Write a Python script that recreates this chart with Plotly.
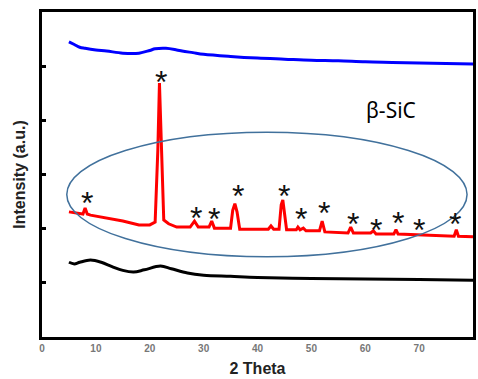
import plotly.graph_objects as go

# Blue curve (top)
blue_x = [5, 6, 7, 8, 10, 12, 15, 18, 20, 21, 23, 25, 26, 28, 30, 35, 40, 45, 50, 55, 60, 65, 70, 75, 80]
blue_y = [5.45, 5.40, 5.35, 5.33, 5.30, 5.28, 5.24, 5.24, 5.29, 5.32, 5.33, 5.30, 5.28, 5.25, 5.22, 5.18, 5.15, 5.13, 5.11, 5.10, 5.08, 5.07, 5.06, 5.05, 5.04]

# Red curve (beta-SiC)
red_x = [5, 7, 7.6, 8, 8.4, 9, 12, 15, 18, 20, 21, 21.5, 21.8, 22.2, 22.6, 23.5, 25, 27.5, 28.3, 29, 31, 31.5, 32,
         35, 35.4, 35.8, 36.2, 36.7, 40, 42, 42.5, 43, 44, 44.4, 44.7, 45, 45.4, 47.2, 47.5, 47.9, 48.5, 49, 51.5, 52, 52.5,
         56.8, 57.3, 57.8, 61, 61.5, 62, 65.3, 65.7, 66.1, 70, 76.5, 76.9, 77.3, 80]
red_y = [2.31, 2.27, 2.27, 2.38, 2.27, 2.25, 2.20, 2.14, 2.07, 2.07, 2.12, 3.45, 4.69, 3.45, 2.16, 2.09, 2.03, 2.03, 2.14, 2.03, 2.03, 2.14, 2.01,
         2.01, 2.34, 2.46, 2.31, 1.99, 1.99, 1.99, 2.05, 1.99, 1.99, 2.44, 2.53, 2.31, 1.98, 1.98, 2.03, 1.98, 2.01, 1.96, 1.96, 2.14, 1.94,
         1.92, 2.03, 1.92, 1.92, 1.96, 1.90, 1.90, 1.98, 1.90, 1.88, 1.86, 1.98, 1.86, 1.85]

# Black curve (bottom)
black_x = [5, 6, 7, 9, 11, 13, 15, 17, 19, 22, 24, 27, 30, 35, 40, 50, 60, 70, 80]
black_y = [1.38, 1.35, 1.38, 1.42, 1.38, 1.30, 1.23, 1.20, 1.24, 1.31, 1.26, 1.18, 1.14, 1.12, 1.10, 1.08, 1.07, 1.06, 1.05]

# Asterisk marker positions
star_x = [8.3, 22.0, 28.5, 32.0, 36.4, 44.9, 48.0, 52.3, 57.7, 62.0, 66.0, 69.9, 76.7]
star_y = [2.52, 4.74, 2.23, 2.21, 2.64, 2.64, 2.21, 2.32, 2.12, 2.01, 2.14, 2.01, 2.12]

fig = go.Figure()
fig.add_trace(go.Scatter(x=blue_x, y=blue_y, mode="lines", line=dict(color="#0000ff", width=3), line_shape="spline"))
fig.add_trace(go.Scatter(x=red_x, y=red_y, mode="lines", line=dict(color="#ff0000", width=3)))
fig.add_trace(go.Scatter(x=black_x, y=black_y, mode="lines", line=dict(color="#000000", width=3), line_shape="spline"))

for sx, sy in zip(star_x, star_y):
    fig.add_annotation(x=sx, y=sy, text="*", showarrow=False,
                       font=dict(family="Liberation Sans", size=32, color="#111111"), yshift=-2)

fig.add_annotation(x=64.7, y=4.19, text="β-SiC", showarrow=False,
                   font=dict(family="Noto Sans", size=21, color="#000000"))

fig.add_shape(type="circle", xref="x", yref="y", x0=4.6, x1=78.9, y0=1.48, y1=3.78,
              line=dict(color="#41719c", width=1.5))

fig.update_layout(
    width=478, height=379,
    margin=dict(l=42, r=2, t=12, b=42),
    paper_bgcolor="white", plot_bgcolor="white",
    showlegend=False,
    font=dict(family="Liberation Sans"),
)
fig.update_xaxes(range=[0, 80], tickvals=[0, 10, 20, 30, 40, 50, 60, 70, 80],
                 ticks="", showgrid=False, zeroline=False,
                 showline=True, linecolor="black", linewidth=3, mirror=True,
                 tickfont=dict(size=10, color="#777777", weight="bold"),
                 title=dict(text="<b>2 Theta</b>", font=dict(size=16, color="#222222"), standoff=10))
fig.update_yaxes(range=[0, 6], tickvals=[1, 2, 3, 4, 5], ticktext=["", "", "", "", ""],
                 ticks="inside", ticklen=4, tickwidth=3, tickcolor="black",
                 showgrid=False, zeroline=False,
                 showline=True, linecolor="black", linewidth=3, mirror=True,
                 title=dict(text="<b>Intensity (a.u.)</b>", font=dict(size=16, color="#222222"), standoff=8))

fig.write_html("out.html")
